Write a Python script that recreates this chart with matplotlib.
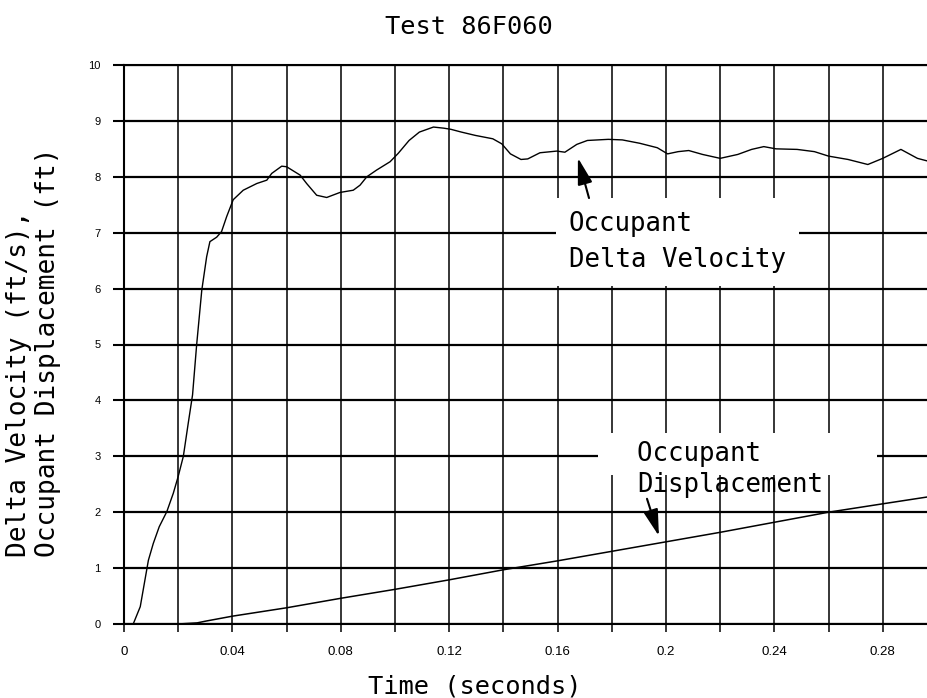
"""
plot.py
-------
Occupant delta velocity and displacement vs time for crash test 86F060.
"""

import matplotlib
matplotlib.use("Agg")
import matplotlib.pyplot as plt

# ---- Data ----
time_vel = [0.0034, 0.006, 0.009, 0.0108, 0.013, 0.0158, 0.0182, 0.020, 0.0219,
            0.0237, 0.0253, 0.0268, 0.0287, 0.0305, 0.0317, 0.0342, 0.036, 0.0379,
            0.0403, 0.044, 0.049, 0.0527, 0.0545, 0.0582, 0.060, 0.065, 0.0674,
            0.0711, 0.0748, 0.0797, 0.0846, 0.0871, 0.0896, 0.0932, 0.0982, 0.1012,
            0.1052, 0.109, 0.1142, 0.118, 0.1206, 0.1245, 0.1297, 0.1361, 0.1394,
            0.1426, 0.1465, 0.149, 0.1535, 0.1597, 0.1627, 0.1671, 0.171, 0.1787,
            0.1839, 0.1903, 0.1968, 0.2006, 0.2045, 0.2084, 0.2135, 0.220, 0.2265,
            0.2316, 0.2361, 0.2406, 0.2484, 0.2548, 0.260, 0.2672, 0.2745, 0.280,
            0.2867, 0.2928, 0.2975]
delta_vel = [0.0, 0.31, 1.14, 1.44, 1.74, 2.01, 2.34, 2.64, 3.0,
             3.59, 4.1, 4.99, 5.97, 6.57, 6.84, 6.92, 7.02, 7.29,
             7.59, 7.76, 7.88, 7.94, 8.06, 8.19, 8.18, 8.03, 7.88,
             7.67, 7.63, 7.72, 7.76, 7.85, 8.0, 8.12, 8.27, 8.42,
             8.65, 8.80, 8.89, 8.87, 8.85, 8.80, 8.74, 8.68, 8.59,
             8.41, 8.31, 8.32, 8.43, 8.46, 8.44, 8.58, 8.65, 8.67,
             8.66, 8.60, 8.52, 8.41, 8.45, 8.47, 8.40, 8.33, 8.40,
             8.49, 8.54, 8.50, 8.49, 8.45, 8.37, 8.31, 8.22, 8.33,
             8.49, 8.33, 8.27]

time_disp = [0.004, 0.02, 0.027, 0.03, 0.04, 0.06, 0.08, 0.10, 0.12, 0.14, 0.16,
             0.18, 0.20, 0.22, 0.24, 0.26, 0.28, 0.2975]
disp = [0.0, 0.0, 0.02, 0.05, 0.14, 0.29, 0.46, 0.62, 0.79, 0.97, 1.13,
        1.30, 1.47, 1.64, 1.82, 2.00, 2.15, 2.28]

x_ticks = [0, 0.04, 0.08, 0.12, 0.16, 0.20, 0.24, 0.28]
x_tick_labels = ["0", "0.04", "0.08", "0.12", "0.16", "0.2", "0.24", "0.28"]
y_ticks = list(range(0, 11))

title = "Test 86F060"
x_label = "Time (seconds)"
y_label = "Delta Velocity (ft/s),\nOccupant Displacement (ft)"

MONO = "DejaVu Sans Mono"
TICKFONT = "Liberation Sans"


def main():
    fig = plt.figure(figsize=(9.28, 6.98), dpi=100)
    ax = fig.add_axes([124 / 928, 1 - 624 / 698, 1 - 124 / 928, 559 / 698])

    ax.plot(time_vel, delta_vel, color="black", lw=1.0, zorder=4)
    ax.plot(time_disp, disp, color="black", lw=1.1, zorder=4)

    ax.set_xlim(0, 0.2967)
    ax.set_ylim(0, 10)

    ax.set_xticks(x_ticks)
    ax.set_xticklabels(x_tick_labels, fontfamily=TICKFONT)
    ax.xaxis.set_minor_locator(matplotlib.ticker.MultipleLocator(0.02))
    ax.set_yticks(y_ticks)
    ax.set_yticklabels([str(v) for v in y_ticks], fontfamily=TICKFONT)

    ax.set_axisbelow(True)
    ax.grid(which="both", axis="x", color="black", lw=1.1)
    ax.grid(which="major", axis="y", color="black", lw=1.6)

    ax.tick_params(axis="y", direction="out", length=8, width=1.5, pad=9,
                   labelsize=8)
    ax.tick_params(axis="x", which="both", direction="out", length=6, width=1.1,
                   pad=10, labelsize=9.5)

    ax.spines["right"].set_visible(False)
    for side in ("left", "top", "bottom"):
        ax.spines[side].set_linewidth(1.5)

    # Titles / labels
    fig.text(469 / 928, 1 - 34 / 698, title, family=MONO, fontsize=18.3,
             ha="center", va="baseline")
    ax.set_xlabel(x_label, family=MONO, fontsize=18.3)
    ax.xaxis.set_label_coords(0.4366, -0.125)
    ax.xaxis.label.set_va("baseline")
    fig.text(34 / 928, 1 - 557 / 698, y_label, family=MONO, fontsize=18.8,
             rotation=90, ha="center", va="bottom", multialignment="left",
             linespacing=1.15)

    # Annotations
    ax.text(0.1642, 7.39, "Occupant\nDelta Velocity", family=MONO, fontsize=18.5,
            ha="left", va="top", linespacing=1.5, zorder=3,
            bbox=dict(boxstyle="square,pad=0.5", fc="white", ec="none"))
    ax.annotate("", xy=(0.1675, 8.34), xytext=(0.1716, 7.62),
                arrowprops=dict(arrowstyle="-|>,head_length=0.9,head_width=0.25",
                                color="black", lw=1.5, shrinkA=0, shrinkB=0,
                                mutation_scale=18), zorder=5)

    # white strip behind the displacement label hides the y=3 grid line
    ax.text(0.1779, 3.27, "  Occupant       ", family=MONO, fontsize=18.5,
            ha="left", va="top", zorder=3,
            bbox=dict(boxstyle="square,pad=0.3", fc="white", ec="none"))
    ax.text(0.1893, 2.36, "Displacement", family=MONO, fontsize=18.5,
            ha="left", va="baseline", zorder=3)
    ax.annotate("", xy=(0.1974, 1.574), xytext=(0.193, 2.24),
                arrowprops=dict(arrowstyle="-|>,head_length=0.9,head_width=0.25",
                                color="black", lw=1.5, shrinkA=0, shrinkB=0,
                                mutation_scale=18), zorder=5)

    fig.savefig("out.png", dpi=100)
    plt.close(fig)


if __name__ == "__main__":
    main()
